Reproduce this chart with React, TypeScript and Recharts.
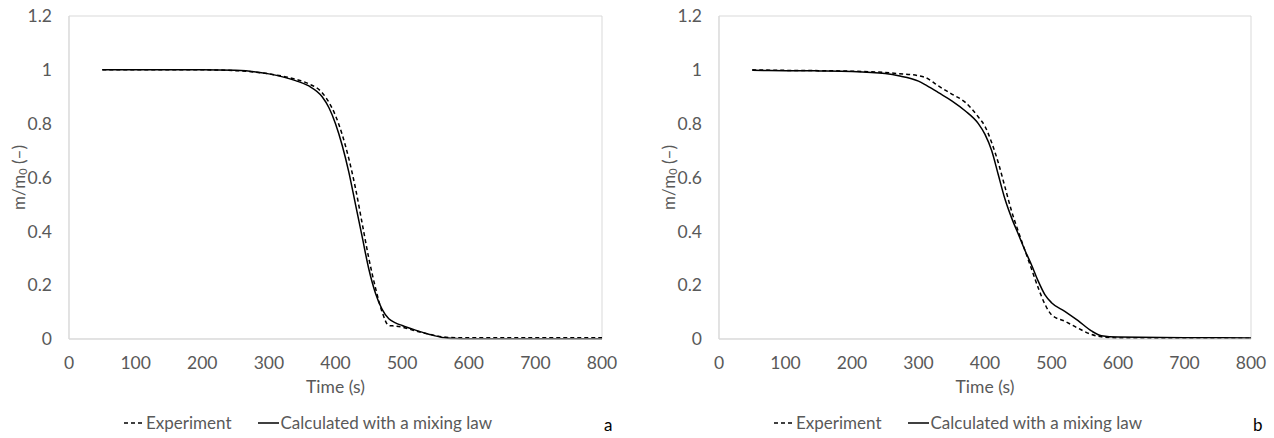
import React from "react";
import {
  LineChart,
  Line,
  XAxis,
  YAxis,
  ReferenceArea,
  Label,
} from "recharts";

// panel a
const timeA = [50, 100, 150, 200, 250, 300, 340, 360, 380, 390, 400, 410, 420, 430, 440, 450, 460, 470, 480, 490, 500, 520, 540, 560, 580, 600, 700, 800];
const expA = [1, 1, 1, 1, 0.997, 0.985, 0.965, 0.948, 0.915, 0.88, 0.83, 0.76, 0.67, 0.56, 0.43, 0.3, 0.19, 0.1, 0.05, 0.048, 0.044, 0.03, 0.018, 0.008, 0.005, 0.005, 0.005, 0.005];
const calcA = [1, 1, 1, 1, 0.998, 0.985, 0.96, 0.94, 0.9, 0.86, 0.8, 0.72, 0.62, 0.5, 0.38, 0.26, 0.17, 0.11, 0.075, 0.06, 0.05, 0.033, 0.018, 0.006, 0.002, 0.001, 0.001, 0.001];

// panel b
const timeB = [50, 100, 150, 200, 250, 270, 300, 310, 330, 350, 370, 390, 400, 410, 420, 430, 440, 450, 460, 470, 480, 490, 500, 520, 540, 560, 575, 600, 700, 800];
const expB = [1, 0.998, 0.997, 0.995, 0.99, 0.986, 0.978, 0.972, 0.94, 0.91, 0.88, 0.825, 0.79, 0.73, 0.655, 0.565, 0.475, 0.4, 0.33, 0.26, 0.19, 0.13, 0.09, 0.066, 0.04, 0.017, 0.008, 0.004, 0.003, 0.003];
const calcB = [0.998, 0.997, 0.996, 0.994, 0.986, 0.978, 0.958, 0.945, 0.915, 0.885, 0.848, 0.8, 0.76, 0.7, 0.61, 0.52, 0.45, 0.39, 0.33, 0.275, 0.215, 0.165, 0.135, 0.103, 0.068, 0.03, 0.012, 0.007, 0.005, 0.004];

const xTicks = [0, 100, 200, 300, 400, 500, 600, 700, 800];
const yTicks = [0, 0.2, 0.4, 0.6, 0.8, 1, 1.2];
const seriesNames = ["Experiment", "Calculated with a mixing law"];

const FONT = "Lato, 'Open Sans', sans-serif";
const GREY = "#595959";
const BORDER = "#d9d9d9";

function buildRows(time: number[], exp: number[], calc: number[]) {
  return time.map((t, i) => ({ t, exp: exp[i], calc: calc[i] }));
}

function YTitle(props: any) {
  const { viewBox } = props;
  const cx = 18;
  const cy = viewBox.y + viewBox.height / 2;
  return (
    <text
      x={cx}
      y={cy}
      transform={`rotate(-90, ${cx}, ${cy})`}
      textAnchor="middle"
      dominantBaseline="central"
      fill={GREY}
      fontSize={17}
      fontFamily={FONT}
    >
      m/m
      <tspan fontSize={11} dy={4}>0</tspan>
      <tspan dy={-4}> (–)</tspan>
    </text>
  );
}

function LegendRow() {
  return (
    <div
      style={{
        position: "absolute",
        left: 124,
        top: 412,
        display: "flex",
        alignItems: "center",
        fontFamily: FONT,
        fontSize: 17,
        color: GREY,
        whiteSpace: "nowrap",
      }}
    >
      <svg width={21} height={10}>
        <line x1={0} y1={5} x2={21} y2={5} stroke="#000" strokeWidth={1.5} strokeDasharray="4 3" />
      </svg>
      <span style={{ marginLeft: 1 }}>{seriesNames[0]}</span>
      <svg width={21} height={10} style={{ marginLeft: 27 }}>
        <line x1={0} y1={5} x2={21} y2={5} stroke="#000" strokeWidth={1.5} />
      </svg>
      <span style={{ marginLeft: 1 }}>{seriesNames[1]}</span>
    </div>
  );
}

function Panel({
  rows,
  width,
  rightMargin,
  tag,
}: {
  rows: { t: number; exp: number; calc: number }[];
  width: number;
  rightMargin: number;
  tag: string;
}) {
  const tick = { fontSize: 17.5, fill: GREY, fontFamily: FONT };
  return (
    <div style={{ position: "relative", width, height: 438 }}>
      <LineChart
        width={width}
        height={438}
        data={rows}
        margin={{ top: 16, right: rightMargin, left: 0, bottom: 69 }}
      >
        <XAxis
          type="number"
          dataKey="t"
          domain={[0, 800]}
          ticks={xTicks}
          tick={tick}
          tickLine={false}
          tickMargin={12}
          axisLine={{ stroke: BORDER }}
          height={30}
          interval={0}
        >
          <Label
            value="Time (s)"
            position="bottom"
            offset={12}
            fill={GREY}
            fontSize={17.5}
            fontFamily={FONT}
          />
        </XAxis>
        <YAxis
          type="number"
          domain={[0, 1.2]}
          ticks={yTicks}
          tick={tick}
          tickFormatter={(v: number) => String(Number(v.toFixed(1)))}
          tickLine={false}
          tickMargin={11}
          axisLine={{ stroke: BORDER }}
          width={69}
          interval={0}
        >
          <Label content={<YTitle />} />
        </YAxis>
        <ReferenceArea
          x1={0}
          x2={800}
          y1={0}
          y2={1.2}
          fill="none"
          stroke={BORDER}
          strokeWidth={1}
          ifOverflow="visible"
        />
        <Line
          type="monotone"
          dataKey="exp"
          name={seriesNames[0]}
          stroke="#000"
          strokeWidth={1.5}
          strokeDasharray="4 3"
          dot={false}
          isAnimationActive={false}
        />
        <Line
          type="monotone"
          dataKey="calc"
          name={seriesNames[1]}
          stroke="#000"
          strokeWidth={1.5}
          dot={false}
          isAnimationActive={false}
        />
      </LineChart>
      <LegendRow />
      <div
        style={{
          position: "absolute",
          left: width - rightMargin + 2,
          top: 414,
          fontFamily: FONT,
          fontSize: 17,
          color: "#000",
        }}
      >
        {tag}
      </div>
    </div>
  );
}

export default function App() {
  return (
    <div
      style={{
        position: "absolute",
        left: 0,
        top: 0,
        width: 1274,
        height: 438,
        background: "#fff",
        display: "flex",
      }}
    >
      <div style={{ width: 650 }}>
        <Panel rows={buildRows(timeA, expA, calcA)} width={637} rightMargin={35} tag="a" />
      </div>
      <Panel rows={buildRows(timeB, expB, calcB)} width={624} rightMargin={23} tag="b" />
    </div>
  );
}
